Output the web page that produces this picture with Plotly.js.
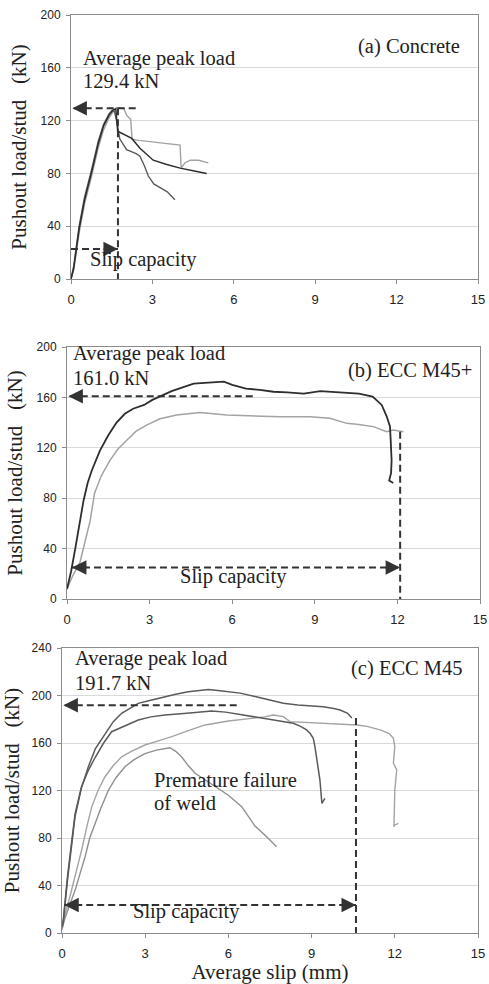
<!DOCTYPE html>
<html><head><meta charset="utf-8">
<script src="https://cdn.plot.ly/plotly-3.0.1.min.js"></script>
<style>html,body{margin:0;padding:0;background:#fff}</style>
</head><body><div id="chart" style="width:489px;height:984px"></div>
<script>
// ---------- (a) Concrete ----------
var a1x = [0,0.1,0.3,0.5,0.75,1.0,1.2,1.4,1.55,1.65,1.72,2.0,2.24,2.54,3.03,3.5,4.02,4.5,5.0];
var a1y = [0,8,38,60,80,102,116,124,128,129,112,109,106.5,99,90,87,84,82,80];
var a2x = [0,0.1,0.3,0.5,0.75,1.0,1.2,1.4,1.52,1.6,1.68,1.8,2.05,2.4,2.54,2.7,2.85,3.05,3.3,3.55,3.83];
var a2y = [0,10,40,62,82,104,117,125,128,127,120,106,98,95,93,86,78,72,69,66,60];
var a3x = [0,0.1,0.3,0.5,0.75,1.0,1.2,1.4,1.6,1.7,1.95,2.05,2.2,2.25,2.5,3.0,3.5,4.02,4.06,4.2,4.4,4.7,5.06];
var a3y = [0,7,35,57,77,99,113,122,128,130,129,124,121,106,105,104,103,101.5,84,88,90,90,88];

// ---------- (b) ECC M45+ ----------
var b1x = [0,0.15,0.3,0.45,0.6,0.75,0.9,1.2,1.5,1.8,2.1,2.4,2.8,3.1,3.4,3.8,4.2,4.6,5.0,5.7,6.0,6.5,7.0,7.5,8.0,8.6,9.2,9.8,10.6,11.1,11.43,11.61,11.73,11.75,11.79,11.77,11.7,11.85];
var b1y = [8,22,40,60,78,92,102,118,130,140,147,151,154,158,161,165,168,171,171.5,172.5,170,167,166,164.5,164,163,165,164,163,160.6,154,145,137,129,110,100,94,92];
var b2x = [0,0.2,0.47,0.6,0.84,1.0,1.25,1.56,1.85,2.17,2.5,2.89,3.38,3.98,4.83,5.8,6.5,7.0,7.74,8.82,9.55,10.16,10.6,11.13,11.61,11.85,12.22];
var b2y = [8,18,29,40,62,84,98,110,119,126,133,138,143,146,148,146,145.5,145,144.7,144.7,143.4,139.4,138.5,136.8,132.8,134.1,132.8];

// ---------- (c) ECC M45 ----------
var c1x = [0,0.05,0.2,0.35,0.47,0.7,0.95,1.2,1.55,1.85,2.15,2.45,2.75,3.2,3.71,4.1,4.55,5.0,5.28,5.7,6.0,6.42,7.0,7.5,7.98,8.5,9.0,9.42,9.8,10.03,10.3,10.45];
var c1y = [5,10,45,75,98,122,140,155,168,178,185,189,193.4,196,199,201,203.2,204.5,205,204,203,202,199,196,193.4,192,191,190.6,189,187.8,185,181];
var c2x = [0,0.05,0.2,0.35,0.47,0.7,0.95,1.2,1.5,1.79,2.2,2.75,3.2,3.71,4.5,5.0,5.4,5.9,6.42,7.0,7.62,8.0,8.34,8.6,8.82,8.95,9.06,9.12,9.18,9.24,9.3,9.35,9.37,9.48];
var c2y = [5,12,48,78,100,123,137,148,160,169.5,174,179.4,182,183.6,185,186,187,186,184,182,180,178,176.6,174,171,168,164,157,148.5,138,128.8,115,109.2,113.4];
var c3x = [0,0.1,0.3,0.5,0.71,0.9,1.07,1.3,1.55,1.85,2.15,2.5,2.99,3.5,3.96,4.5,5.16,6.0,6.84,7.3,7.62,7.98,8.22,9.0,9.8,10.63,11.0,11.47,11.8,11.95,12.0,11.95,12.07,12.0,11.97,12.0,12.13];
var c3y = [3,15,32,50,70,90,106,120,131.6,141,148.4,153,158.3,162,165.3,170,175.2,178.5,180.8,182,183.6,182.2,178,177,176,175.2,174,171,168,164,157,143,137.3,120.4,89.5,91,92.4];
var c4x = [0,0.1,0.3,0.5,0.65,0.83,1.0,1.19,1.4,1.67,1.95,2.27,2.6,2.99,3.4,3.89,4.1,4.31,4.55,4.8,5.15,5.52,6.0,6.48,6.96,7.38,7.74];
var c4y = [3,12,25,38,50,64,80,92,105,120,131,140,146,151,154,156,153,148.4,141,134.5,129,123.2,116,106.4,90,81,72.7];

// ---------- annotation values ----------
var panelLabels = ['(a) Concrete', '(b) ECC M45+', '(c) ECC M45'];
var peakLoads = [129.4, 161.0, 191.7];
var peakTexts = ['129.4 kN', '161.0 kN', '191.7 kN'];
var peakDashEnd = [2.43, 6.8, 6.3];
var slipCaps = [1.73, 12.1, 10.6];
var slipArrowY = [22.7, 25, 23.6];
var slipArrowStart = [-0.15, 0.18, 0.08];
var slipVertTop = [129.4, 132.8, 181];
var xTicks = [0, 3, 6, 9, 12, 15];
var yMax = [200, 200, 240];

var W = 489, H = 984;
function px(x){ return x / W; }
function py(y){ return 1 - y / H; }

var dark = '#2e2e2e', mid = '#5a5a5a', grey = '#8f8f8f', light = '#a3a3a3';
function tr(x, y, ax, col, w){
  return {x: x, y: y, xaxis: 'x' + ax, yaxis: 'y' + ax, type: 'scatter', mode: 'lines',
    line: {color: col, width: w || 1.4}, hoverinfo: 'skip', showlegend: false};
}
var data = [
  tr(a3x, a3y, '', light), tr(a2x, a2y, '', mid), tr(a1x, a1y, '', dark, 1.5),
  tr(b2x, b2y, '2', light, 1.5), tr(b1x, b1y, '2', dark, 1.8),
  tr(c3x, c3y, '3', light), tr(c4x, c4y, '3', grey), tr(c2x, c2y, '3', mid, 1.5), tr(c1x, c1y, '3', mid, 1.5)
];

var serif = "'Liberation Serif'";
var sans = "'Liberation Sans'";
var axCol = '#8c8c8c';

function xa(dom, anchor, title){
  var o = {domain: dom, anchor: anchor, range: [0, 15], tickvals: xTicks, showgrid: false, zeroline: false,
    showline: true, linecolor: axCol, linewidth: 1, mirror: true, ticks: 'outside', ticklen: 4, tickcolor: axCol,
    ticklabelstandoff: 4, tickfont: {family: sans, size: 13, color: '#222'}, fixedrange: true};
  if (title) o.title = {text: title, font: {family: serif, size: 21, color: '#222'}, standoff: 0};
  return o;
}
function ya(dom, anchor, ymax){
  return {domain: dom, anchor: anchor, range: [0, ymax], dtick: 40, showgrid: true, gridcolor: '#d9d9d9', gridwidth: 1,
    zeroline: false, showline: true, linecolor: axCol, linewidth: 1, mirror: true, ticks: 'outside', ticklen: 4,
    tickcolor: axCol, ticklabelstandoff: 3, tickfont: {family: sans, size: 12, color: '#222'}, fixedrange: true,
    title: {text: 'Pushout load/stud\u00a0\u00a0\u00a0(kN)', font: {family: serif, size: 21, color: '#222'}, standoff: 8}};
}

var layout = {
  width: W, height: H, margin: {l: 0, r: 0, t: 0, b: 0}, paper_bgcolor: '#fff', plot_bgcolor: '#fff',
  showlegend: false,
  xaxis: xa([71/W, 478/W], 'y'), yaxis: ya([1-279/H, 1-15/H], 'x', yMax[0]),
  xaxis2: xa([67/W, 480/W], 'y2'), yaxis2: ya([1-599/H, 1-347/H], 'x2', yMax[1]),
  xaxis3: xa([62/W, 478/W], 'y3', 'Average slip (mm)'), yaxis3: ya([1-933/H, 1-648/H], 'x3', yMax[2]),
  shapes: [], annotations: []
};

var axSuffix = ['', '2', '3'];
var dashStyle = {color: '#333', width: 2, dash: '7px,4px'};
var headCol = '#333';
for (var i = 0; i < 3; i++){
  var s = axSuffix[i];
  var xr = 'x' + s, yr = 'y' + s;
  layout.shapes.push({type: 'line', xref: xr, yref: yr, x0: 0.1, x1: peakDashEnd[i], y0: peakLoads[i], y1: peakLoads[i], line: dashStyle, layer: 'above'});
  layout.shapes.push({type: 'line', xref: xr, yref: yr, x0: Math.max(slipArrowStart[i], 0), x1: slipCaps[i], y0: slipArrowY[i], y1: slipArrowY[i], line: dashStyle, layer: 'above'});
  layout.shapes.push({type: 'line', xref: xr, yref: yr, x0: slipCaps[i], x1: slipCaps[i], y0: slipVertTop[i], y1: 0, line: dashStyle, layer: 'above'});
  var head = {text: '', showarrow: true, arrowhead: 2, arrowsize: 1.45, arrowwidth: 2, arrowcolor: headCol, xref: xr, yref: yr, axref: 'pixel', ayref: 'pixel'};
  layout.annotations.push(Object.assign({}, head, {x: 0.05, y: peakLoads[i], ax: 16, ay: 0}));
  layout.annotations.push(Object.assign({}, head, {x: slipArrowStart[i], y: slipArrowY[i], ax: 16, ay: 0}));
  layout.annotations.push(Object.assign({}, head, {x: slipCaps[i], y: slipArrowY[i], ax: -16, ay: 0}));
}

function txt(t, x, y, anchor){
  return {text: t, xref: 'paper', yref: 'paper', x: px(x), y: py(y), xanchor: anchor || 'left', yanchor: 'middle',
    showarrow: false, borderpad: 0, font: {family: serif, size: 20.5, color: '#222'}};
}
layout.annotations.push(txt('Average peak load', 82, 58));
layout.annotations.push(txt(peakTexts[0], 82, 81));
layout.annotations.push(txt(panelLabels[0], 461, 46, 'right'));
layout.annotations.push(txt('Slip capacity', 89, 260));
layout.annotations.push(txt('Average peak load', 72, 353));
layout.annotations.push(txt(peakTexts[1], 72, 378));
layout.annotations.push(txt(panelLabels[1], 473, 371, 'right'));
layout.annotations.push(txt('Slip capacity', 179, 576));
layout.annotations.push(txt('Average peak load', 74, 658));
layout.annotations.push(txt(peakTexts[2], 74, 683));
layout.annotations.push(txt(panelLabels[2], 464, 668, 'right'));
layout.annotations.push(txt('Premature failure', 153, 780));
layout.annotations.push(txt('of weld', 153, 803));
layout.annotations.push(txt('Slip capacity', 132, 911));

Plotly.newPlot('chart', data, layout, {displayModeBar: false, staticPlot: true});
</script></body></html>
